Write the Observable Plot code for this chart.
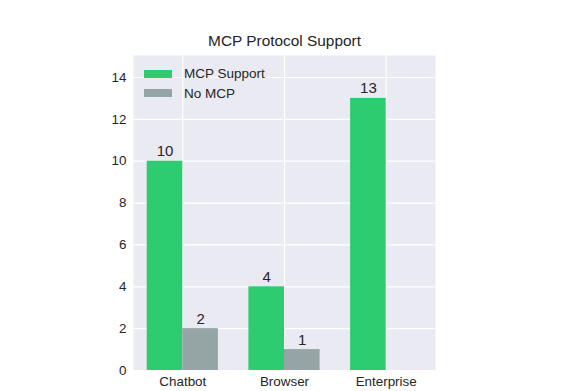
<!DOCTYPE html>
<html>
<head>
<meta charset="utf-8">
<script src="https://cdn.jsdelivr.net/npm/d3@7"></script>
<script src="https://cdn.jsdelivr.net/npm/@observablehq/plot@0.6"></script>
<style>
  html, body { margin: 0; padding: 0; background: #ffffff; }
  #wrap { position: relative; width: 588px; height: 391px; font-family: "Liberation Sans", Arial, sans-serif; }
  #legend { position: absolute; left: 144px; top: 64px; font-size: 13.5px; color: #262626; line-height: 19.5px; }
  .item { display: flex; align-items: center; }
  .sw { width: 28px; height: 8px; margin-right: 12px; }
</style>
</head>
<body>
<div id="wrap"></div>
<script>
const categories = ["Chatbot", "Browser", "Enterprise"];
const mcpSupport = [10, 4, 13];
const noMcp = [2, 1, 0];
const seriesNames = ["MCP Support", "No MCP"];
const seriesColors = ["#2ecc71", "#95a5a6"];
const yTicks = [0, 2, 4, 6, 8, 10, 12, 14];
const title = "MCP Protocol Support";

const barW = 0.35;
const rows = [];
categories.forEach((c, i) => {
  rows.push({cat: c, i, series: seriesNames[0], value: mcpSupport[i], x1: i - barW, x2: i});
  rows.push({cat: c, i, series: seriesNames[1], value: noMcp[i], x1: i, x2: i + barW});
});
const labeled = rows.filter(d => d.value > 0);

const chart = Plot.plot({
  width: 588,
  height: 391,
  marginLeft: 133,
  marginRight: 153,
  marginTop: 55,
  marginBottom: 21,
  style: {fontFamily: "Liberation Sans, Arial, sans-serif", fontSize: "13px", color: "#262626", background: "#ffffff"},
  x: {domain: [-0.485, 2.485]},
  y: {domain: [0, 15.05]},
  color: {domain: seriesNames, range: seriesColors},
  marks: [
    Plot.frame({fill: "#eaeaf2", stroke: null}),
    Plot.gridY(yTicks, {stroke: "#ffffff", strokeOpacity: 1, strokeWidth: 1.2}),
    Plot.gridX([0, 1, 2], {stroke: "#ffffff", strokeOpacity: 1, strokeWidth: 1.2}),
    Plot.rectY(rows, {x1: "x1", x2: "x2", y: "value", fill: "series"}),
    Plot.text(labeled, {x: d => (d.x1 + d.x2) / 2, y: "value", text: d => String(d.value), lineAnchor: "bottom", dy: -5, fontSize: 15, fill: "#262626"}),
    Plot.axisY(yTicks, {tickSize: 0, tickPadding: 7, fontSize: 13.4, fill: "#262626", label: null}),
    Plot.axisX([0, 1, 2], {tickSize: 0, tickPadding: 6, fontSize: 13.4, fill: "#262626", tickFormat: i => categories[i], label: null}),
    Plot.text([title], {frameAnchor: "top", dy: -10, lineAnchor: "bottom", fontSize: 15.4, fill: "#262626"})
  ]
});
const wrap = document.getElementById("wrap");
wrap.appendChild(chart);

const legend = document.createElement("div");
legend.id = "legend";
seriesNames.forEach((s, k) => {
  const it = document.createElement("div");
  it.className = "item";
  const sw = document.createElement("span");
  sw.className = "sw";
  sw.style.background = seriesColors[k];
  const tx = document.createElement("span");
  tx.textContent = s;
  it.appendChild(sw);
  it.appendChild(tx);
  legend.appendChild(it);
});
wrap.appendChild(legend);
</script>
</body>
</html>
